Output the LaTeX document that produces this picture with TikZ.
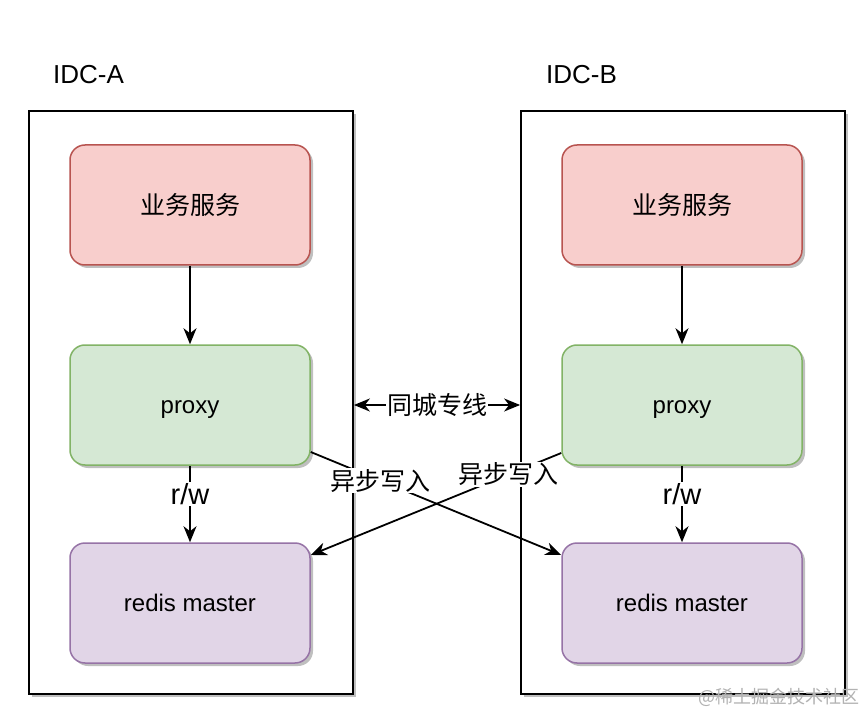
\documentclass[tikz,border=0pt]{standalone}
\usepackage{fontspec}
\setmainfont{Liberation Sans}
\newfontfamily\cjk{Noto Sans CJK SC}
\usetikzlibrary{arrows.meta,shadows}
\definecolor{redfill}{HTML}{F8CECC}
\definecolor{reddraw}{HTML}{B85450}
\definecolor{greenfill}{HTML}{D5E8D4}
\definecolor{greendraw}{HTML}{82B366}
\definecolor{purplefill}{HTML}{E1D5E7}
\definecolor{purpledraw}{HTML}{9673A6}
\tikzset{
  shad/.style={drop shadow={shadow xshift=3pt,shadow yshift=-3pt,fill=black,opacity=0.25}},
  idcbox/.style={draw=black,line width=1.8pt,fill=white,minimum width=324pt,minimum height=583pt,inner sep=0pt,shad},
  svcbox/.style={rounded corners=15pt,line width=1.5pt,minimum width=240pt,minimum height=120pt,inner sep=0pt,shad},
  cjkfont/.style={font=\fontsize{25}{30}\selectfont\cjk},
  latfont/.style={font=\fontsize{24}{29}\selectfont},
  redbox/.style={svcbox,draw=reddraw,fill=redfill,cjkfont,text height=22pt,text depth=3pt},
  greenbox/.style={svcbox,draw=greendraw,fill=greenfill,latfont,text height=19pt,text depth=3pt},
  purplebox/.style={svcbox,draw=purpledraw,fill=purplefill,latfont,text height=19pt,text depth=3pt},
  conn/.style={line width=1.8pt,-{Stealth[length=16pt,width=13pt,inset=5pt]}},
  lbl/.style={fill=white,inner sep=1pt,cjkfont},
  rwlbl/.style={fill=white,inner sep=1pt,font=\fontsize{29}{34}\selectfont},
  title/.style={anchor=west,inner sep=0pt,font=\fontsize{26}{30}\selectfont},
}
\begin{document}
\begin{tikzpicture}[x=1pt,y=-1pt]
\useasboundingbox (0,0) rectangle (868,714);
\fill[white] (0,0) rectangle (868,714);
% containers
\node[idcbox] (idcA) at (191,402.5) {};
\node[idcbox] (idcB) at (683,402.5) {};
\node[title] (tA) at (53,75) {IDC-A};
\node[title] (tB) at (546,75) {IDC-B};
% left column
\node[redbox] (sA) at (190,205) {业务服务};
\node[greenbox] (pA) at (190,405) {proxy};
\node[purplebox] (rA) at (190,603) {redis master};
% right column
\node[redbox] (sB) at (682,205) {业务服务};
\node[greenbox] (pB) at (682,405) {proxy};
\node[purplebox] (rB) at (682,603) {redis master};
% vertical arrows
\draw[conn] (sA) -- (pA);
\draw[conn] (sB) -- (pB);
\draw[conn] (pA) -- node[rwlbl,pos=0.37]{r/w} (rA);
\draw[conn] (pB) -- node[rwlbl,pos=0.37]{r/w} (rB);
% inter-IDC line
\draw[line width=1.8pt,{Stealth[length=16pt,width=13pt,inset=5pt]}-{Stealth[length=16pt,width=13pt,inset=5pt]}] (idcA.east |- pA.east) -- node[lbl]{同城专线} (idcB.west |- pB.west);
% async writes
\draw[conn] ([yshift=-47pt]pA.east) -- node[lbl,pos=0.28]{异步写入} ([yshift=48pt]rB.west);
\draw[conn] ([yshift=-48pt]pB.west) -- node[lbl,pos=0.21]{异步写入} ([yshift=48pt]rA.east);
% watermark
\node[anchor=east,text=black!30,inner sep=0pt,font=\fontsize{18}{20}\selectfont\cjk] (wm) at (860,697) {@稀土掘金技术社区};
\end{tikzpicture}
\end{document}
